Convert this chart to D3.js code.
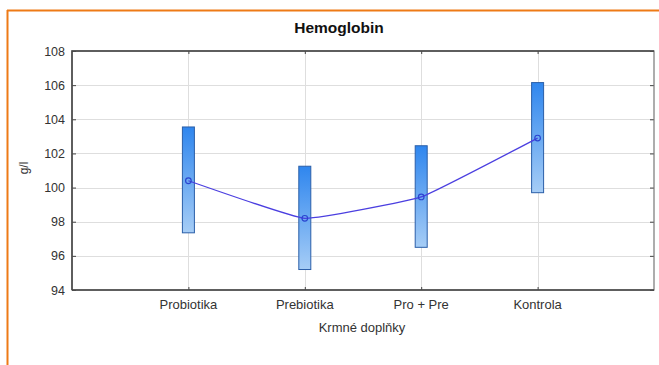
<!DOCTYPE html>
<html>
<head>
<meta charset="utf-8">
<script src="https://cdn.jsdelivr.net/npm/d3@7/dist/d3.min.js"></script>
<style>
  html, body { margin: 0; padding: 0; background: #fff; }
  svg { display: block; font-family: "Liberation Sans", Arial, sans-serif; }
</style>
</head>
<body>
<svg id="chart" width="659" height="365"></svg>
<script>
// Hemoglobin (g/l) by feed supplement: mean with interval
const categories = ["Probiotika", "Prebiotika", "Pro + Pre", "Kontrola"];
const means = [100.4, 98.2, 99.45, 102.9];
const lower = [97.35, 95.2, 96.5, 99.7];
const upper = [103.55, 101.25, 102.45, 106.15];
const yTicks = [94, 96, 98, 100, 102, 104, 106, 108];

const svg = d3.select("#chart");
const W = 659, H = 365;
const m = { left: 72, top: 51, right: 654, bottom: 290 };

// Orange frame (top and left edges)
svg.append("line").attr("x1", 7).attr("x2", W).attr("y1", 10.5).attr("y2", 10.5)
  .attr("stroke", "#ee7a16").attr("stroke-width", 2);
svg.append("line").attr("x1", 7.5).attr("x2", 7.5).attr("y1", 10).attr("y2", H)
  .attr("stroke", "#ee7a16").attr("stroke-width", 2);

const x = d3.scaleLinear().domain([0, categories.length + 1]).range([m.left, m.right]);
const y = d3.scaleLinear().domain([94, 108]).range([m.bottom, m.top]);
const xPos = i => x(i + 1);

// Grid
const grid = svg.append("g");
grid.selectAll(".hg").data(yTicks.slice(1, -1)).join("line")
  .attr("x1", m.left).attr("x2", m.right)
  .attr("y1", d => Math.round(y(d)) + 0.5).attr("y2", d => Math.round(y(d)) + 0.5)
  .attr("stroke", "#dedede").attr("stroke-width", 1);
grid.selectAll(".vg").data(categories).join("line")
  .attr("x1", (d, i) => Math.round(xPos(i)) + 0.5).attr("x2", (d, i) => Math.round(xPos(i)) + 0.5)
  .attr("y1", m.top).attr("y2", m.bottom)
  .attr("stroke", "#dedede").attr("stroke-width", 1);

// Axes with inward ticks
const fmt = d3.format("d");
const axL = svg.append("g").attr("transform", `translate(${m.left},0)`)
  .call(d3.axisRight(y).tickValues(yTicks).tickSize(4).tickFormat(""));
const axR = svg.append("g").attr("transform", `translate(${m.right},0)`)
  .call(d3.axisLeft(y).tickValues(yTicks).tickSize(4).tickFormat(""));
const axB = svg.append("g").attr("transform", `translate(0,${m.bottom})`)
  .call(d3.axisTop(x).tickValues(d3.range(1, categories.length + 1)).tickSize(3).tickFormat(""));
const axT = svg.append("g").attr("transform", `translate(0,${m.top})`)
  .call(d3.axisBottom(x).tickValues(d3.range(1, categories.length + 1)).tickSize(3).tickFormat(""));
[axL, axR, axB, axT].forEach(a => {
  a.select(".domain").remove();
  a.selectAll(".tick line").attr("stroke", "#444");
});

// Frame
svg.append("rect").attr("x", m.left).attr("y", m.top)
  .attr("width", m.right - m.left).attr("height", m.bottom - m.top)
  .attr("fill", "none").attr("stroke", "#777").attr("stroke-width", 1.2);
svg.append("path")
  .attr("d", `M${m.left},${m.bottom}V${m.top}H${m.right}M${m.left},${m.bottom}H${m.right}`)
  .attr("fill", "none").attr("stroke", "#444").attr("stroke-width", 1.5);

// Y tick labels
svg.append("g").selectAll("text").data(yTicks).join("text")
  .attr("x", m.left - 7).attr("y", d => y(d) + 4.5)
  .attr("text-anchor", "end").attr("font-size", 12.5).attr("fill", "#333")
  .text(fmt);

// X tick labels
svg.append("g").selectAll("text").data(categories).join("text")
  .attr("x", (d, i) => xPos(i)).attr("y", m.bottom + 19)
  .attr("text-anchor", "middle").attr("font-size", 13).attr("fill", "#333")
  .text(d => d);

// Titles
svg.append("text").attr("x", 339).attr("y", 33).attr("text-anchor", "middle")
  .attr("font-size", 15.5).attr("font-weight", "bold").attr("fill", "#111").text("Hemoglobin");
svg.append("text").attr("x", 362).attr("y", 332).attr("text-anchor", "middle")
  .attr("font-size", 13).attr("fill", "#333").text("Krmné doplňky");
svg.append("text").attr("transform", "translate(28,168) rotate(-90)")
  .attr("text-anchor", "middle").attr("font-size", 12).attr("fill", "#333").text("g/l");

// Gradient for interval bars
const defs = svg.append("defs");
const grad = defs.append("linearGradient").attr("id", "barGrad")
  .attr("x1", 0).attr("x2", 0).attr("y1", 0).attr("y2", 1);
grad.append("stop").attr("offset", "0%").attr("stop-color", "#2f86ee");
grad.append("stop").attr("offset", "100%").attr("stop-color", "#a6cdf6");

const bw = 12;
svg.append("g").selectAll("rect").data(categories).join("rect")
  .attr("x", (d, i) => xPos(i) - bw / 2)
  .attr("y", (d, i) => y(upper[i]))
  .attr("width", bw)
  .attr("height", (d, i) => y(lower[i]) - y(upper[i]))
  .attr("fill", "url(#barGrad)")
  .attr("stroke", "#2b5fa8").attr("stroke-width", 1);

// Mean line and markers
const line = d3.line().x((d, i) => xPos(i)).y(d => y(d)).curve(d3.curveCardinal.tension(0.7));
svg.append("path").datum(means).attr("d", line)
  .attr("fill", "none").attr("stroke", "#4b3fe0").attr("stroke-width", 1.3);
svg.append("g").selectAll("circle").data(means).join("circle")
  .attr("cx", (d, i) => xPos(i)).attr("cy", d => y(d)).attr("r", 2.8)
  .attr("fill", "none").attr("stroke", "#2a45d0").attr("stroke-width", 1.2);
</script>
</body>
</html>
